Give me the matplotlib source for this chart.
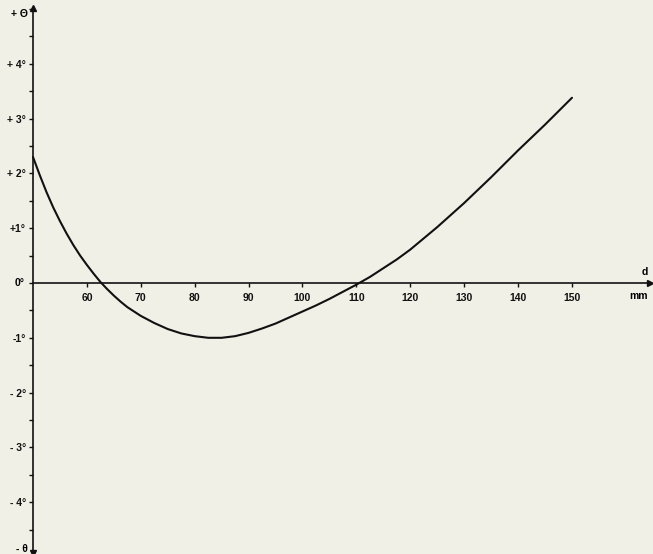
import matplotlib.pyplot as plt
from matplotlib.ticker import MultipleLocator

# distanza d (mm) e scarto angolare theta (gradi)
d_mm = [50, 51.25, 52.5, 53.75, 55, 56.25, 57.5, 58.75, 60, 61.25, 62.5,
        63.75, 65, 66.25, 67.5, 68.75, 70, 72.5, 75, 77.5, 80, 82.5, 85, 87.5,
        90, 92.5, 95, 97.5, 100, 102.5, 105, 107.5, 110, 112.5, 115, 117.5,
        120, 125, 130, 135, 140, 145, 150]
theta = [2.30, 1.97, 1.66, 1.38, 1.13, 0.90, 0.69, 0.50, 0.33, 0.17, 0.02,
         -0.11, -0.23, -0.34, -0.44, -0.52, -0.60, -0.73, -0.84, -0.92, -0.97,
         -1.00, -1.00, -0.97, -0.91, -0.83, -0.74, -0.63, -0.52, -0.41, -0.29,
         -0.16, -0.03, 0.11, 0.27, 0.43, 0.61, 1.02, 1.46, 1.93, 2.42, 2.89,
         3.38]

x_ticks = [60, 70, 80, 90, 100, 110, 120, 130, 140, 150]
y_ticks = [-4, -3, -2, -1, 1, 2, 3, 4]
y_labels = ["- 4°", "- 3°", "- 2°", "-1°", "+1°", "+ 2°", "+ 3°", "+ 4°"]

bg = "#f1f0e6"
font = dict(family="Liberation Sans", weight="bold", size=7.5)

fig = plt.figure(figsize=(6.53, 5.54), dpi=100, facecolor=bg)
ax = fig.add_axes([0, 0, 1, 1], facecolor=bg)
ax.set_xlim(43.88, 165.03)
ax.set_ylim(-4.945, 5.164)

ax.plot(d_mm, theta, color="#111111", lw=1.5, solid_capstyle="round")

# assi passanti per l'origine
for s in ["top", "right"]:
    ax.spines[s].set_visible(False)
ax.spines["left"].set_position(("data", 50))
ax.spines["bottom"].set_position(("data", 0))
ax.spines["left"].set_bounds(-4.92, 5.0)
ax.spines["bottom"].set_bounds(50, 164.3)
for s in ["left", "bottom"]:
    ax.spines[s].set_linewidth(1.2)
    ax.spines[s].set_color("#111111")

ax.plot([50], [5.02], marker="^", ms=5, color="#111111", clip_on=False)
ax.plot([50], [-4.92], marker="v", ms=5, color="#111111", clip_on=False)
ax.plot([164.4], [0], marker=">", ms=5, color="#111111", clip_on=False)

ax.set_xticks(x_ticks)
ax.set_xticklabels([str(v) for v in x_ticks], **font)
ax.set_yticks(y_ticks)
ax.set_yticklabels(y_labels, **font)
ax.yaxis.set_minor_locator(MultipleLocator(0.5))
ax.tick_params(axis="x", direction="out", length=3, width=1, pad=4, colors="#111111")
ax.tick_params(axis="y", which="both", direction="out", length=3, width=1, pad=2,
               colors="#111111")

# testi in pixel (origine in basso a sinistra)
ax.text(25, 271, "0°", transform=None, ha="right", va="center", **font)
ax.text(28, 540, "+ Θ", transform=None, ha="right", va="center", **font)
ax.text(28, 5, "- θ", transform=None, ha="right", va="center", **font)
ax.text(645, 282, "d", transform=None, ha="center", va="center", **font)
ax.text(638, 258, "mm", transform=None, ha="center", va="center", **font)

fig.savefig("out.png", dpi=100, facecolor=bg)
